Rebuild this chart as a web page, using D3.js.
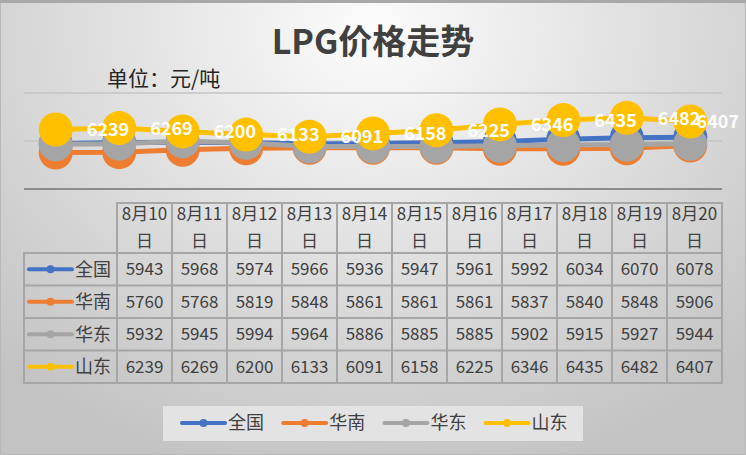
<!DOCTYPE html>
<html>
<head>
<meta charset="utf-8">
<script src="https://d3js.org/d3.v7.min.js"></script>
<style>
  body { margin: 0; }
  svg text { font-family: "Noto Sans CJK SC", "Noto Sans", sans-serif; }
</style>
</head>
<body>
<svg width="746" height="455"></svg>
<script>
// data
var dates = ["8月10日", "8月11日", "8月12日", "8月13日", "8月14日", "8月15日",
             "8月16日", "8月17日", "8月18日", "8月19日", "8月20日"];
var seriesNames = ["全国", "华南", "华东", "山东"];
var quanguo  = [5943, 5968, 5974, 5966, 5936, 5947, 5961, 5992, 6034, 6070, 6078];
var huanan   = [5760, 5768, 5819, 5848, 5861, 5861, 5861, 5837, 5840, 5848, 5906];
var huadong  = [5932, 5945, 5994, 5964, 5886, 5885, 5885, 5902, 5915, 5927, 5944];
var shandong = [6239, 6269, 6200, 6133, 6091, 6158, 6225, 6346, 6435, 6482, 6407];
var yTicks = [5000, 6000, 7000];
var colors = ["#4472C4", "#ED7D31", "#A5A5A5", "#FFC000"];

var series = [quanguo, huanan, huadong, shandong].map(function(v, i) {
  return { name: seriesNames[i], values: v, color: colors[i] };
});

var svg = d3.select("svg");
var W = 746, H = 455;

// background
var defs = svg.append("defs");
var grad = defs.append("radialGradient")
  .attr("id", "bg")
  .attr("gradientUnits", "userSpaceOnUse")
  .attr("cx", 373).attr("cy", 30).attr("r", 540)
  .attr("gradientTransform", "translate(373,30) scale(1,0.85) translate(-373,-30)");
grad.append("stop").attr("offset", "0").attr("stop-color", "#fcfcfc");
grad.append("stop").attr("offset", "1").attr("stop-color", "#c3c3c3");
svg.append("rect").attr("width", W).attr("height", H).attr("fill", "url(#bg)");
svg.append("rect").attr("x", 0.5).attr("y", 0.5).attr("width", W - 1).attr("height", H - 1)
  .attr("fill", "none").attr("stroke", "#b8b8b8").attr("stroke-width", 1);
svg.append("line").attr("x1", 0).attr("x2", W).attr("y1", 1.5).attr("y2", 1.5)
  .attr("stroke", "#a8a8a8").attr("stroke-width", 3);

// titles
svg.append("text")
  .attr("x", 373).attr("y", 54)
  .attr("text-anchor", "middle")
  .attr("font-size", "34px").attr("font-weight", "bold")
  .attr("fill", "#404040")
  .text("LPG价格走势");
svg.append("text")
  .attr("x", 107).attr("y", 86)
  .attr("font-size", "21px")
  .attr("fill", "#262626")
  .text("单位：元/吨");

// scales
var plotLeft = 24, plotRight = 722;
var x = d3.scaleBand().domain(dates).range([plotLeft, plotRight]);
var cx = function(d) { return x(d) + x.bandwidth() / 2; };
var y = d3.scaleLinear().domain([5000, 7000]).range([189, 93]);

// gridlines + axis line
svg.append("g").selectAll("line")
  .data(yTicks)
  .enter().append("line")
  .attr("x1", plotLeft).attr("x2", plotRight)
  .attr("y1", function(d) { return y(d); })
  .attr("y2", function(d) { return y(d); })
  .attr("stroke", function(d) { return d === 5000 ? "#8c8c8c" : "#c4c4c4"; })
  .attr("stroke-width", function(d) { return d === 5000 ? 2 : 1.5; });

// lines and markers, series by series
var line = d3.line()
  .x(function(d, i) { return cx(dates[i]); })
  .y(function(d) { return y(d); });

series.forEach(function(s) {
  var g = svg.append("g");
  g.append("path")
    .attr("d", line(s.values))
    .attr("fill", "none")
    .attr("stroke", s.color)
    .attr("stroke-width", 5)
    .attr("stroke-linejoin", "round");
  g.selectAll("circle")
    .data(s.values)
    .enter().append("circle")
    .attr("cx", function(d, i) { return cx(dates[i]); })
    .attr("cy", function(d) { return y(d); })
    .attr("r", 17)
    .attr("fill", s.color);
});

// data labels for 山东, placed right of the point
var lbl = svg.append("g");
shandong.forEach(function(v, i) {
  var t = lbl.append("text")
    .attr("y", y(v))
    .attr("dy", "0.38em")
    .attr("font-size", "18px").attr("font-weight", "bold")
    .attr("fill", "#ffffff")
    .text(v);
  var w = t.node().getComputedTextLength();
  var lx = Math.min(cx(dates[i]) + 31, 739 - w);
  t.attr("x", lx);
});

// data table
var tbl = svg.append("g");
var colLeft = 117, colW = (plotRight - colLeft) / dates.length;
var headTop = 203, headBottom = 253, rowH = 32.5;
var tableBottom = headBottom + rowH * series.length;
var border = "#a6a6a6";

tbl.append("rect")
  .attr("x", colLeft).attr("y", headTop)
  .attr("width", plotRight - colLeft).attr("height", tableBottom - headTop)
  .attr("fill", "none").attr("stroke", border).attr("stroke-width", 2);
tbl.append("rect")
  .attr("x", plotLeft).attr("y", headBottom)
  .attr("width", plotRight - plotLeft).attr("height", tableBottom - headBottom)
  .attr("fill", "none").attr("stroke", border).attr("stroke-width", 2);
dates.forEach(function(d, i) {
  if (i > 0) {
    tbl.append("line")
      .attr("x1", colLeft + colW * i).attr("x2", colLeft + colW * i)
      .attr("y1", headTop).attr("y2", tableBottom)
      .attr("stroke", border).attr("stroke-width", 2);
  }
  var mid = colLeft + colW * (i + 0.5);
  tbl.append("text").attr("x", mid).attr("y", 214).attr("dy", "0.36em")
    .attr("text-anchor", "middle").attr("font-size", "17px").attr("fill", "#404040")
    .text(d.slice(0, -1));
  tbl.append("text").attr("x", mid).attr("y", 241).attr("dy", "0.36em")
    .attr("text-anchor", "middle").attr("font-size", "17px").attr("fill", "#404040")
    .text(d.slice(-1));
});
series.forEach(function(s, r) {
  var top = headBottom + rowH * r;
  tbl.append("line")
    .attr("x1", plotLeft).attr("x2", plotRight)
    .attr("y1", top).attr("y2", top)
    .attr("stroke", border).attr("stroke-width", 2);
  var cy = top + rowH / 2;
  tbl.append("line")
    .attr("x1", 29).attr("x2", 72).attr("y1", cy).attr("y2", cy)
    .attr("stroke", s.color).attr("stroke-width", 4).attr("stroke-linecap", "round");
  tbl.append("circle").attr("cx", 50.5).attr("cy", cy).attr("r", 4).attr("fill", s.color);
  tbl.append("text").attr("x", 75).attr("y", cy).attr("dy", "0.36em")
    .attr("font-size", "18px").attr("fill", "#404040")
    .text(s.name);
  s.values.forEach(function(v, i) {
    tbl.append("text")
      .attr("x", colLeft + colW * (i + 0.5)).attr("y", cy).attr("dy", "0.36em")
      .attr("text-anchor", "middle").attr("font-size", "17px").attr("fill", "#404040")
      .text(v);
  });
});

// legend
var leg = svg.append("g");
leg.append("rect")
  .attr("x", 163).attr("y", 406).attr("width", 420).attr("height", 35)
  .attr("fill", "#e3e3e3");
series.forEach(function(s, i) {
  var x0 = 182 + i * 101.2, ly = 423;
  leg.append("line")
    .attr("x1", x0).attr("x2", x0 + 43).attr("y1", ly).attr("y2", ly)
    .attr("stroke", s.color).attr("stroke-width", 4).attr("stroke-linecap", "round");
  leg.append("circle").attr("cx", x0 + 21.5).attr("cy", ly).attr("r", 4).attr("fill", s.color);
  leg.append("text").attr("x", x0 + 46).attr("y", ly).attr("dy", "0.36em")
    .attr("font-size", "18px").attr("fill", "#404040")
    .text(s.name);
});
</script>
</body>
</html>
